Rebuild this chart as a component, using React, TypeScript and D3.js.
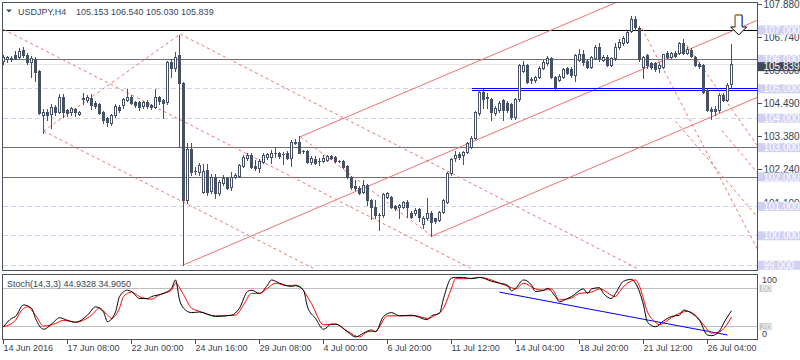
import React from 'react';
import * as d3 from 'd3';

const FONT = '"Liberation Sans", Arial, sans-serif';

const symbolText = 'USDJPY,H4';
const ohlcText = '105.153 106.540 105.030 105.839';
const stochText = 'Stoch(14,3,3) 44.9328 34.9050';

// H4 bars, [open, high, low, close]
const candles: number[][] = [
  [105.93, 106.15, 105.84, 106.09], [106.02, 106.12, 105.92, 106.07], [106.04, 106.13, 105.93, 106.03],
  [106.15, 106.27, 106.0, 106.04], [106.09, 106.38, 106.05, 106.29], [106.32, 106.42, 106.08, 106.15],
  [106.15, 106.22, 105.84, 105.9], [105.91, 106.12, 105.41, 106.05], [106.0, 106.07, 105.27, 105.58],
  [105.61, 105.64, 104.15, 104.18], [104.11, 104.3, 103.51, 104.22], [104.21, 104.3, 103.95, 104.11],
  [104.14, 104.48, 103.67, 104.38], [104.38, 104.45, 104.1, 104.22], [104.22, 104.82, 104.18, 104.73],
  [104.73, 104.82, 104.05, 104.22], [104.28, 104.32, 104.08, 104.18], [104.22, 104.38, 104.1, 104.33],
  [104.31, 104.36, 104.08, 104.2], [104.13, 104.24, 104.11, 104.22], [104.68, 104.85, 104.5, 104.66],
  [104.62, 104.8, 104.55, 104.73], [104.68, 104.84, 104.3, 104.45], [104.53, 104.58, 104.35, 104.41],
  [104.48, 104.52, 104.14, 104.19], [104.22, 104.25, 103.85, 103.94], [104.0, 104.05, 103.72, 103.88],
  [103.82, 104.14, 103.78, 104.11], [104.11, 104.5, 104.05, 104.41], [104.39, 104.44, 104.22, 104.28],
  [104.45, 104.68, 104.36, 104.64], [104.62, 105.01, 104.58, 104.73], [104.73, 104.78, 104.48, 104.53],
  [104.56, 104.6, 104.38, 104.45], [104.56, 104.6, 104.28, 104.39], [104.41, 104.6, 104.36, 104.56],
  [104.56, 104.62, 104.36, 104.41], [104.45, 104.5, 104.32, 104.39], [104.39, 104.98, 104.35, 104.73],
  [104.73, 104.76, 104.5, 104.6], [104.62, 104.66, 104.0, 104.51], [104.55, 105.96, 104.5, 105.92],
  [105.92, 106.0, 105.39, 105.7], [105.7, 106.25, 105.62, 106.09], [106.15, 106.84, 103.03, 105.2],
  [105.19, 105.22, 99.01, 101.22], [101.22, 103.16, 101.13, 102.94], [102.94, 103.16, 102.07, 102.18],
  [102.2, 102.33, 102.1, 102.19], [102.18, 102.47, 102.07, 102.41], [101.5, 102.43, 101.45, 102.21],
  [102.24, 102.43, 101.4, 101.5], [101.53, 102.1, 101.45, 102.01], [102.01, 102.1, 101.3, 101.47],
  [101.47, 101.9, 101.4, 101.84], [101.81, 102.07, 101.73, 101.96], [101.96, 102.0, 101.58, 101.62],
  [101.67, 102.18, 101.56, 102.01], [102.01, 102.12, 101.98, 102.07], [102.03, 102.45, 102.0, 102.41],
  [102.37, 102.75, 102.33, 102.69], [102.64, 102.8, 102.58, 102.75], [102.75, 102.8, 102.3, 102.33],
  [102.36, 102.58, 102.24, 102.3], [102.3, 102.6, 102.18, 102.56], [102.52, 102.8, 102.48, 102.75],
  [102.69, 102.82, 102.62, 102.77], [102.69, 102.92, 102.47, 102.83], [102.8, 103.01, 102.69, 102.81],
  [102.81, 102.85, 102.66, 102.71], [102.77, 102.86, 102.44, 102.78], [102.83, 102.88, 102.6, 102.64],
  [102.64, 103.26, 102.37, 103.2], [103.17, 103.29, 103.12, 103.18], [103.2, 103.4, 102.8, 102.83],
  [102.87, 102.92, 102.8, 102.88], [102.88, 102.92, 102.48, 102.52], [102.52, 102.71, 102.44, 102.64],
  [102.6, 102.71, 102.44, 102.49], [102.55, 102.65, 102.41, 102.54], [102.56, 102.75, 102.52, 102.64],
  [102.58, 102.75, 102.55, 102.71], [102.71, 102.75, 102.6, 102.64], [102.67, 102.7, 102.52, 102.56],
  [102.55, 102.58, 102.5, 102.54], [102.54, 102.58, 102.3, 102.35], [102.37, 102.4, 101.97, 102.01],
  [102.01, 102.05, 101.6, 101.67], [101.7, 101.9, 101.56, 101.62], [101.64, 101.68, 101.42, 101.47],
  [101.5, 101.9, 101.45, 101.73], [101.73, 101.76, 101.05, 101.22], [101.22, 101.25, 100.57, 100.99],
  [100.99, 101.22, 100.61, 100.71], [100.72, 100.78, 100.2, 100.71], [100.71, 101.45, 100.65, 101.42],
  [101.33, 101.48, 101.3, 101.44], [101.33, 101.36, 100.95, 100.99], [101.01, 101.05, 100.88, 100.93],
  [100.97, 101.08, 100.61, 101.05], [100.99, 101.2, 100.95, 101.16], [101.16, 101.22, 100.64, 100.99],
  [100.79, 100.85, 100.6, 100.65], [100.77, 100.93, 100.72, 100.88], [100.91, 100.95, 100.5, 100.63],
  [100.4, 100.66, 100.27, 100.62], [100.6, 101.29, 100.55, 100.77], [100.79, 100.83, 99.99, 100.48],
  [100.59, 100.62, 100.45, 100.51], [100.54, 100.86, 100.5, 100.82], [100.82, 101.26, 100.78, 101.22],
  [101.16, 102.17, 101.12, 102.13], [102.13, 102.65, 102.08, 102.6], [102.64, 102.88, 102.55, 102.75],
  [102.77, 102.85, 102.6, 102.69], [102.75, 102.9, 102.44, 102.84], [102.84, 103.2, 102.8, 103.15],
  [103.03, 103.4, 102.98, 103.34], [103.32, 104.25, 103.28, 104.22], [104.17, 104.96, 104.12, 104.9],
  [104.9, 104.98, 104.35, 104.64], [104.68, 104.86, 104.35, 104.72], [104.64, 104.7, 103.94, 104.22],
  [104.17, 104.4, 104.1, 104.34], [104.28, 104.58, 104.22, 104.52], [104.62, 104.66, 103.95, 104.28],
  [104.52, 104.58, 104.2, 104.28], [104.48, 104.52, 103.98, 104.05], [104.05, 104.7, 103.98, 104.64],
  [104.64, 105.84, 104.6, 105.81], [105.62, 105.96, 105.58, 105.81], [105.81, 105.86, 105.2, 105.24],
  [105.32, 105.4, 105.2, 105.3], [105.3, 105.45, 105.22, 105.41], [105.41, 105.76, 105.38, 105.72],
  [105.72, 105.98, 105.68, 105.9], [105.87, 106.1, 105.82, 106.04], [106.04, 106.08, 105.36, 105.41],
  [105.41, 105.45, 104.98, 105.06], [105.3, 105.5, 105.25, 105.44], [105.41, 105.72, 105.38, 105.66],
  [105.7, 105.75, 105.5, 105.55], [105.66, 105.75, 105.4, 105.47], [105.47, 106.2, 105.25, 106.15],
  [105.98, 106.35, 105.95, 106.2], [106.2, 106.32, 105.81, 105.92], [105.94, 106.0, 105.7, 105.75],
  [105.75, 106.12, 105.7, 106.09], [106.04, 106.48, 106.0, 106.43], [106.43, 106.55, 105.96, 106.0],
  [105.98, 106.15, 105.93, 106.09], [106.09, 106.15, 105.78, 105.81], [105.81, 106.08, 105.78, 106.04],
  [106.04, 106.55, 105.98, 106.43], [106.41, 106.68, 106.35, 106.6], [106.55, 106.78, 106.5, 106.72],
  [106.6, 106.98, 106.55, 106.94], [106.98, 107.48, 106.93, 107.36], [107.36, 107.49, 107.0, 107.09],
  [107.06, 107.12, 105.95, 106.0], [105.73, 106.12, 105.36, 106.09], [106.15, 106.2, 105.72, 105.81],
  [105.87, 105.92, 105.66, 105.73], [105.87, 105.9, 105.6, 105.66], [105.7, 105.87, 105.58, 105.81],
  [105.75, 106.2, 105.7, 106.17], [106.21, 106.27, 106.05, 106.09], [106.09, 106.25, 106.05, 106.21],
  [106.21, 106.28, 106.07, 106.12], [106.23, 106.6, 106.18, 106.57], [106.57, 106.68, 106.18, 106.23],
  [106.23, 106.42, 106.18, 106.34], [106.32, 106.38, 106.08, 106.13], [106.09, 106.12, 105.76, 105.81],
  [105.86, 105.92, 105.7, 105.78], [105.81, 105.84, 104.86, 104.9], [104.96, 105.0, 104.24, 104.28],
  [104.3, 104.38, 103.97, 104.25], [104.32, 104.4, 104.1, 104.26], [104.28, 104.85, 104.22, 104.79],
  [104.79, 104.86, 104.58, 104.62], [104.62, 105.2, 104.58, 105.13], [105.153, 106.54, 105.03, 105.839],
];

const timeLabels = [
  '14 Jun 2016', '17 Jun 08:00', '22 Jun 00:00', '24 Jun 16:00', '29 Jun 08:00', '4 Jul 00:00',
  '6 Jul 20:00', '11 Jul 12:00', '14 Jul 04:00', '18 Jul 20:00', '21 Jul 12:00', '26 Jul 04:00',
];
const barsPerLabel = 16;

const priceTicks = [107.88, 106.74, 105.63, 104.49, 103.38, 102.24, 101.1];
const roundLevels = [107, 106, 105, 104, 103, 102, 101, 100, 99];
const blackLevels = [107];
const grayLevels = [106, 103, 102];
const blueLevels = [105.01, 104.94];
const lastPrice = 105.839;

// trend lines: [[bar, price], [bar, price]]
const solidTrends = [
  [[45, 99.01], [190, 107.42]],
  [[74.2, 103.37], [156, 108.1]],
  [[107.1, 99.99], [190, 104.8]],
];
const dashedTrends = [
  [[0, 107.02], [116.7, 98.9]],
  [[10, 103.56], [77.4, 98.9]],
  [[10, 103.56], [44.2, 106.86]],
  [[44.2, 106.86], [158.3, 98.9]],
  [[74.2, 103.37], [107.1, 99.99]],
  [[159.6, 107.06], [190, 99.15]],
  [[170.8, 106.49], [190, 102.77]],
  [[168, 103.9], [190, 100.4]],
  [[179.6, 103.58], [190, 101.9]],
];
const sellArrow = [183.8, 106.83];

const stochK = [
  [0, 20], [2, 33], [3, 36], [5, 54], [7, 49], [8, 33], [10, 16], [12, 24], [13, 30], [14, 34], [16, 30],
  [18, 27], [21, 38], [23, 51], [25, 43], [26, 28], [28, 43], [29, 67], [31, 77], [32, 75], [34, 64],
  [36, 64], [37, 67], [40, 72], [42, 80], [43, 93], [44, 62], [45, 49], [47, 42], [49, 43], [53, 36],
  [57, 38], [59, 49], [61, 75], [62, 77], [64, 72], [66, 85], [67, 93], [69, 88], [72, 83], [73, 84],
  [75, 77], [76, 51], [78, 33], [80, 16], [82, 24], [83, 24], [86, 12], [88, 4], [90, 10], [92, 15],
  [93, 12], [95, 36], [97, 42], [99, 37], [102, 38], [106, 31], [107, 37], [109, 41], [110, 64],
  [112, 96], [113, 97], [115, 97], [117, 95], [119, 97], [122, 91], [124, 88], [126, 85], [127, 76],
  [128, 80], [130, 93], [132, 85], [133, 75], [135, 77], [136, 80], [138, 67], [139, 59], [141, 64],
  [142, 67], [145, 79], [146, 72], [147, 79], [149, 81], [150, 72], [152, 64], [153, 72], [155, 91],
  [157, 94], [158, 88], [160, 54], [161, 27], [163, 20], [165, 29], [167, 36], [169, 38], [170, 46],
  [172, 41], [174, 30], [176, 7], [177, 6], [179, 13], [180, 25], [182, 45],
];
const stochD = [
  [0, 20], [3, 30], [4, 41], [6, 51], [8, 38], [10, 21], [13, 25], [15, 30], [18, 27], [22, 38],
  [24, 49], [26, 38], [27, 33], [29, 49], [30, 67], [32, 74], [34, 67], [37, 63], [39, 70], [42, 77],
  [43, 88], [45, 70], [47, 49], [49, 44], [53, 37], [58, 38], [60, 54], [62, 72], [64, 72], [66, 80],
  [68, 88], [71, 84], [73, 85], [74, 83], [77, 56], [80, 23], [83, 24], [86, 13], [89, 4], [91, 12],
  [93, 13], [96, 37], [99, 37], [103, 37], [106, 33], [108, 38], [110, 49], [112, 80], [113, 95],
  [116, 95], [119, 97], [122, 93], [124, 88], [127, 81], [128, 79], [130, 88], [133, 79], [135, 77],
  [137, 79], [139, 62], [142, 65], [144, 72], [147, 74], [149, 79], [153, 67], [154, 75], [156, 88],
  [158, 93], [159, 83], [161, 43], [163, 27], [164, 23], [166, 30], [168, 38], [171, 44], [173, 38],
  [175, 23], [177, 10], [179, 12], [182, 35],
];
const stochLevels = [80, 20];
const stochTrend = [[124, 74], [181, 7]];

const W = 800;
const H = 360;
const LEFT = 2.5;
const RIGHT = 757.5;
const MAIN_TOP = 2.5;
const MAIN_BOTTOM = 270.5;
const ST_TOP = 274.5;
const ST_BOTTOM = 339.5;

const FRAME = '#4a525e';
const CANDLE = '#465264';
const RED = '#ef7272';
const LAVENDER = '#d0d0f0';
const TEXT = '#3a4250';

const crisp = (v: number) => Math.round(v - 0.5) + 0.5;

export default function App() {
  const x = d3.scaleLinear().domain([0, 188.4]).range([3.5, 757.1]);
  const y = d3.scaleLinear().domain([99, 107]).range([265.2, 30]);
  const ys = d3.scaleLinear().domain([0, 100]).range([339.5, 275.5]);

  const seg = d3.line<number[]>().x(d => x(d[0])).y(d => y(d[1]));
  const stochLine = d3.line<number[]>().x(d => x(d[0])).y(d => ys(d[1])).curve(d3.curveMonotoneX);
  const stochSeg = d3.line<number[]>().x(d => x(d[0])).y(d => ys(d[1]));

  return (
    <svg width={W} height={H} style={{ position: 'absolute', left: 0, top: 0, background: '#fff' }}
      fontFamily={FONT}>
      <defs>
        <clipPath id="main-clip">
          <rect x={3} y={3} width={754} height={267} />
        </clipPath>
        <clipPath id="stoch-clip">
          <rect x={3} y={275} width={754} height={64} />
        </clipPath>
      </defs>
      <rect x={0} y={0} width={W} height={H} fill="#fff" />

      {/* price levels */}
      <g shapeRendering="crispEdges">
        {roundLevels.map(p => (
          <line key={p} x1={3} x2={757} y1={crisp(y(p))} y2={crisp(y(p))}
            stroke={LAVENDER} strokeDasharray="5,3" />
        ))}
        <line x1={3} x2={757} y1={crisp(y(lastPrice))} y2={crisp(y(lastPrice))} stroke="#e4e4e4" />
        {grayLevels.map(p => (
          <line key={p} x1={3} x2={757} y1={crisp(y(p))} y2={crisp(y(p))} stroke="#707070" />
        ))}
        {blackLevels.map(p => (
          <line key={p} x1={3} x2={757} y1={crisp(y(p))} y2={crisp(y(p))} stroke="#000" />
        ))}
      </g>

      {/* channels */}
      <g clipPath="url(#main-clip)" fill="none" stroke={RED}>
        {dashedTrends.map((d, i) => (
          <path key={'d' + i} d={seg(d) || ''} strokeDasharray="3,3" />
        ))}
        {solidTrends.map((d, i) => (
          <path key={'s' + i} d={seg(d) || ''} />
        ))}
      </g>

      <g shapeRendering="crispEdges">
        {blueLevels.map(p => (
          <line key={p} x1={x(117)} x2={757} y1={crisp(y(p))} y2={crisp(y(p))} stroke="#0000ff" />
        ))}
      </g>

      {/* candles */}
      <g shapeRendering="crispEdges" stroke={CANDLE}>
        {candles.map((c, i) => {
          const [o, h, l, cl] = c;
          const cx = x(i);
          const top = Math.round(y(Math.max(o, cl)));
          const bot = Math.round(y(Math.min(o, cl)));
          const bull = cl >= o;
          return (
            <g key={i}>
              <line x1={cx} x2={cx} y1={Math.round(y(h))} y2={Math.round(y(l)) + 1} />
              {bot - top < 1 ? (
                <line x1={cx - 1.5} x2={cx + 1.5} y1={top + 0.5} y2={top + 0.5} />
              ) : (
                <rect x={cx - 1} y={top + 0.5} width={2} height={bot - top}
                  fill={bull ? '#fff' : CANDLE} />
              )}
            </g>
          );
        })}
      </g>

      {/* sell arrow */}
      <g transform={`translate(${x(sellArrow[0])},${y(sellArrow[1])})`}>
        <path d="M-3.5,-20 L3.5,-20 L3.5,-8 L8,-8 L0,0 L-8,-8 L-3.5,-8 Z" fill="#fff" stroke="#000" />
        <path d="M-3.5,-8 L-3.5,-20 L3.5,-20" fill="none" stroke="#f5a030" />
        <path d="M3.5,-20 L3.5,-8" fill="none" stroke="#2f6fd0" />
      </g>

      {/* stochastic */}
      <g shapeRendering="crispEdges">
        {stochLevels.map(v => (
          <line key={v} x1={3} x2={757} y1={crisp(ys(v))} y2={crisp(ys(v))} stroke="#c0c0c0" />
        ))}
      </g>
      <g clipPath="url(#stoch-clip)" fill="none">
        <path d={stochSeg(stochTrend) || ''} stroke="#0000ff" />
        <path d={stochLine(stochD) || ''} stroke="#ff0000" />
        <path d={stochLine(stochK) || ''} stroke="#000" />
      </g>

      {/* frames */}
      <g fill="none" stroke={FRAME} shapeRendering="crispEdges">
        <rect x={LEFT} y={MAIN_TOP} width={RIGHT - LEFT} height={MAIN_BOTTOM - MAIN_TOP} />
        <rect x={LEFT} y={ST_TOP} width={RIGHT - LEFT} height={ST_BOTTOM - ST_TOP} />
        {priceTicks.map(p => (
          <line key={p} x1={RIGHT} x2={RIGHT + 4} y1={crisp(y(p))} y2={crisp(y(p))} />
        ))}
        {timeLabels.map((t, i) => (
          <line key={t} x1={x(i * barsPerLabel)} x2={x(i * barsPerLabel)} y1={ST_BOTTOM} y2={ST_BOTTOM + 4} />
        ))}
      </g>

      {/* price axis labels */}
      <g fontSize={10} fill={TEXT}>
        {priceTicks.map(p => (
          <text key={p} x={763.5} y={y(p) + 3.5}>{p.toFixed(3)}</text>
        ))}
      </g>
      {roundLevels.map(p => (
        <g key={p}>
          <rect x={758} y={y(p) - 4.5} width={42} height={9} fill={LAVENDER} />
          <text x={763.5} y={y(p) + 3.5} fontSize={10} fill="#fff">{p.toFixed(3)}</text>
        </g>
      ))}
      <g>
        <rect x={758} y={y(lastPrice) - 2} width={42} height={9} fill="#3e4857" />
        <text x={763.5} y={y(lastPrice) + 6} fontSize={10} fill="#fff">{lastPrice.toFixed(3)}</text>
      </g>

      {/* stoch axis labels */}
      <text x={762} y={ys(100) + 7.5} fontSize={9} fill={TEXT}>100</text>
      {stochLevels.map(v => (
        <g key={v}>
          <rect x={759.5} y={ys(v) - 3.5} width={12} height={7} fill="#c4c4c4" />
          <text x={761} y={ys(v) + 3} fontSize={9} fill="#fff">{v}</text>
        </g>
      ))}
      <text x={762} y={ys(0) - 3} fontSize={9} fill={TEXT}>0</text>

      {/* time labels */}
      <g fontSize={9} fill={TEXT}>
        {timeLabels.map((t, i) => (
          <text key={t} x={x(i * barsPerLabel)} y={351}>{t}</text>
        ))}
      </g>

      {/* titles */}
      <path d="M6,9.5 L12,9.5 L9,12.5 Z" fill="#3b4a5c" />
      <text x={18} y={14.5} fontSize={9} fill="#34475c">{symbolText}</text>
      <text x={76} y={14.5} fontSize={9} fill="#34475c">{ohlcText}</text>
      <text x={7} y={287} fontSize={9} fill={TEXT}>{stochText}</text>
    </svg>
  );
}
